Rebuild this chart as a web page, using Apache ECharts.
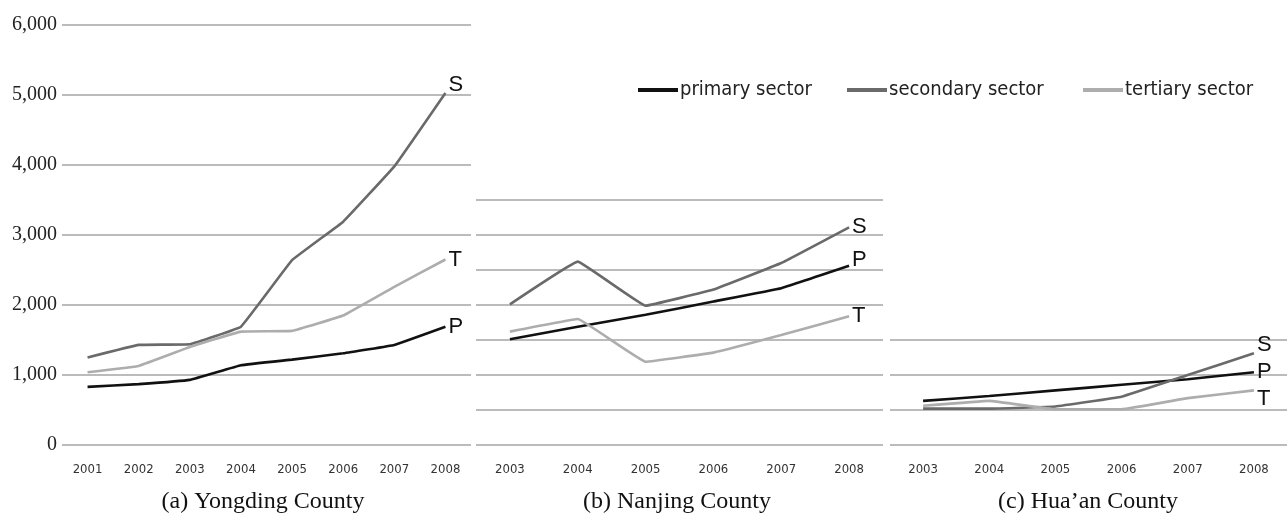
<!DOCTYPE html>
<html>
<head>
<meta charset="utf-8">
<script src="https://cdn.jsdelivr.net/npm/echarts@6/dist/echarts.min.js"></script>
<style>
  html, body { margin: 0; padding: 0; background: #fff; }
  #chart { width: 1287px; height: 514px; }
</style>
</head>
<body>
<div id="chart"></div>
<script>
// categories
const yearsYongding = ["2001", "2002", "2003", "2004", "2005", "2006", "2007", "2008"];
const yearsOther = ["2003", "2004", "2005", "2006", "2007", "2008"];

// series values
const yongdingPrimary = [830, 870, 930, 1140, 1220, 1310, 1430, 1690];
const yongdingSecondary = [1250, 1430, 1440, 1690, 2640, 3190, 3980, 5030];
const yongdingTertiary = [1040, 1130, 1400, 1620, 1630, 1850, 2260, 2650];

const nanjingPrimary = [1510, 1690, 1860, 2050, 2240, 2560];
const nanjingSecondary = [2010, 2620, 1990, 2220, 2600, 3110];
const nanjingTertiary = [1620, 1800, 1190, 1320, 1570, 1840];

const huaanPrimary = [630, 700, 780, 860, 940, 1040];
const huaanSecondary = [520, 520, 550, 690, 1000, 1310];
const huaanTertiary = [560, 630, 510, 510, 670, 780];

const sectorNames = ["primary sector", "secondary sector", "tertiary sector"];
const captions = ["(a) Yongding County", "(b) Nanjing County", "(c) Hua\u2019an County"];

const colors = ["#111111", "#6a6a6a", "#adadad"];
const serif = "'Liberation Serif', 'DejaVu Serif', serif";
const narrow = "'Liberation Sans Narrow', 'DejaVu Sans Condensed', 'Open Sans', sans-serif";

const chart = echarts.init(document.getElementById("chart"));

function xAxis(idx, data) {
  return {
    type: "category",
    gridIndex: idx,
    data: data,
    boundaryGap: true,
    axisLine: { show: false },
    axisTick: { show: false },
    axisLabel: { fontFamily: narrow, fontSize: 13, color: "#333", margin: 18 },
  };
}

function yAxis(idx, max, showLabels) {
  return {
    type: "value",
    gridIndex: idx,
    min: 0,
    max: max,
    interval: showLabels ? 1000 : 500,
    axisLine: { show: false },
    axisTick: { show: false },
    axisLabel: {
      show: showLabels,
      fontFamily: serif,
      fontSize: 20,
      color: "#222",
      margin: 5,
      formatter: (v) => v.toLocaleString("en-US"),
    },
    splitLine: { lineStyle: { color: "#a4a4a4", width: 1.5 } },
  };
}

function line(idx, sector, data, letter, offset) {
  return {
    name: sectorNames[sector],
    type: "line",
    xAxisIndex: idx,
    yAxisIndex: idx,
    data: data,
    color: colors[sector],
    smooth: 0.06,
    symbol: "none",
    lineStyle: { width: 2.6, color: colors[sector] },
    endLabel: {
      show: true,
      formatter: letter,
      distance: 3,
      offset: offset || [0, 0],
      fontFamily: "'Liberation Sans', Arial, sans-serif",
      fontSize: 22,
      color: "#111",
    },
  };
}

const legendLefts = [633, 842, 1078];

const options = {
  animation: false,
  backgroundColor: "#fff",
  grid: [
    { left: 62, top: 25, width: 409, height: 420 },
    { left: 476, top: 200, width: 407, height: 245 },
    { left: 890, top: 340, width: 407, height: 105 },
  ],
  legend: sectorNames.map((name, i) => ({
    data: [name],
    left: legendLefts[i],
    top: 75,
    icon: "rect",
    itemWidth: 40,
    itemHeight: 4,
    textStyle: { fontFamily: narrow, fontSize: 20, color: "#222", padding: [0, 0, 0, -3] },
  })),
  xAxis: [xAxis(0, yearsYongding), xAxis(1, yearsOther), xAxis(2, yearsOther)],
  yAxis: [yAxis(0, 6000, true), yAxis(1, 3500, false), yAxis(2, 1500, false)],
  series: [
    line(0, 0, yongdingPrimary, "P"),
    line(0, 1, yongdingSecondary, "S", [0, -8]),
    line(0, 2, yongdingTertiary, "T"),
    line(1, 0, nanjingPrimary, "P", [0, -6]),
    line(1, 1, nanjingSecondary, "S"),
    line(1, 2, nanjingTertiary, "T"),
    line(2, 0, huaanPrimary, "P"),
    line(2, 1, huaanSecondary, "S", [0, -8]),
    line(2, 2, huaanTertiary, "T", [0, 9]),
  ],
  graphic: captions.map((text, i) => ({
    type: "text",
    x: [263, 677, 1088][i],
    y: 502,
    style: {
      text: text,
      font: "24px " + serif,
      fill: "#111",
      textAlign: "center",
      textVerticalAlign: "middle",
    },
  })),
};

chart.setOption(options);
</script>
</body>
</html>
